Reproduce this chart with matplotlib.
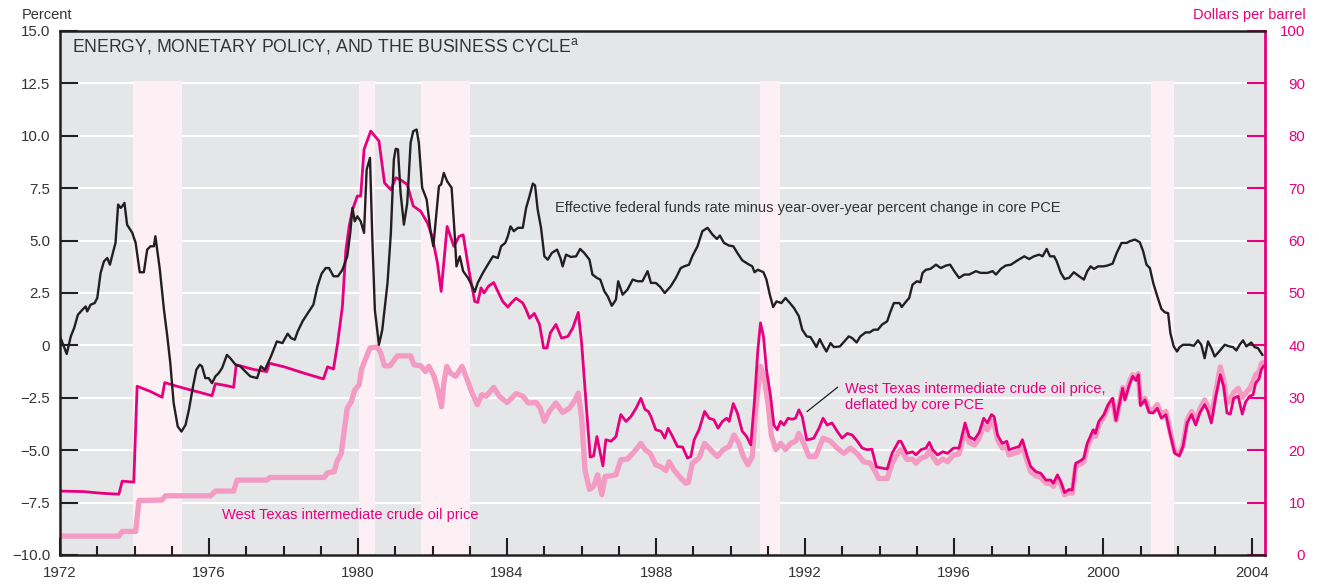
import matplotlib
matplotlib.use("Agg")
import matplotlib.pyplot as plt
from matplotlib.ticker import MultipleLocator

# --- data --------------------------------------------------------------------
# real fed funds rate (percent, left axis)
ff_years = [1972.00, 1972.18, 1972.29, 1972.38, 1972.48, 1972.60, 1972.69, 1972.73, 1972.82, 1972.93,
            1973.00, 1973.09, 1973.18, 1973.27, 1973.34, 1973.43, 1973.49, 1973.56, 1973.63, 1973.67,
            1973.73, 1973.80, 1973.94, 1974.03, 1974.14, 1974.25, 1974.34, 1974.43, 1974.52, 1974.56,
            1974.68, 1974.79, 1974.88, 1974.96, 1975.05, 1975.16, 1975.26, 1975.37, 1975.46, 1975.57,
            1975.66, 1975.75, 1975.81, 1975.90, 1975.99, 1976.08, 1976.17, 1976.26, 1976.35, 1976.48,
            1976.57, 1976.71, 1976.84, 1976.97, 1977.11, 1977.29, 1977.39, 1977.50, 1977.66, 1977.82,
            1977.97, 1978.11, 1978.20, 1978.30, 1978.38, 1978.51, 1978.64, 1978.80, 1978.91, 1979.02,
            1979.13, 1979.22, 1979.34, 1979.46, 1979.58, 1979.71, 1979.79, 1979.85, 1979.91, 1979.98,
            1980.07, 1980.16, 1980.23, 1980.32, 1980.38, 1980.45, 1980.56, 1980.65, 1980.79, 1980.88,
            1980.96, 1981.01, 1981.07, 1981.14, 1981.23, 1981.32, 1981.41, 1981.48, 1981.57, 1981.63,
            1981.72, 1981.84, 1981.95, 1982.02, 1982.11, 1982.17, 1982.23, 1982.30, 1982.39, 1982.51,
            1982.59, 1982.64, 1982.73, 1982.82, 1982.95, 1983.04, 1983.13, 1983.21, 1983.35, 1983.48,
            1983.62, 1983.75, 1983.84, 1983.95, 1984.02, 1984.09, 1984.18, 1984.29, 1984.42, 1984.51,
            1984.60, 1984.69, 1984.75, 1984.82, 1984.91, 1985.00, 1985.09, 1985.20, 1985.34, 1985.43,
            1985.49, 1985.58, 1985.71, 1985.85, 1985.96, 1986.07, 1986.21, 1986.29, 1986.41, 1986.50,
            1986.61, 1986.70, 1986.81, 1986.92, 1986.98, 1987.10, 1987.23, 1987.37, 1987.50, 1987.63,
            1987.77, 1987.86, 1987.99, 1988.11, 1988.23, 1988.39, 1988.53, 1988.66, 1988.75, 1988.88,
            1988.97, 1989.11, 1989.24, 1989.38, 1989.51, 1989.63, 1989.71, 1989.82, 1989.96, 1990.07,
            1990.18, 1990.31, 1990.45, 1990.58, 1990.64, 1990.73, 1990.88, 1990.96, 1991.05, 1991.14,
            1991.23, 1991.36, 1991.47, 1991.59, 1991.70, 1991.83, 1991.92, 1992.04, 1992.14, 1992.23,
            1992.30, 1992.39, 1992.48, 1992.57, 1992.68, 1992.77, 1992.93, 1993.05, 1993.17, 1993.26,
            1993.38, 1993.48, 1993.62, 1993.73, 1993.84, 1993.95, 1994.06, 1994.20, 1994.29, 1994.38,
            1994.53, 1994.59, 1994.71, 1994.79, 1994.88, 1995.00, 1995.09, 1995.15, 1995.24, 1995.36,
            1995.51, 1995.64, 1995.78, 1995.89, 1996.00, 1996.13, 1996.27, 1996.40, 1996.58, 1996.71,
            1996.89, 1997.03, 1997.12, 1997.25, 1997.38, 1997.52, 1997.70, 1997.88, 1998.01, 1998.14,
            1998.28, 1998.37, 1998.48, 1998.57, 1998.68, 1998.75, 1998.86, 1998.96, 1999.08, 1999.21,
            1999.35, 1999.48, 1999.57, 1999.66, 1999.75, 1999.86, 2000.00, 2000.11, 2000.25, 2000.36,
            2000.49, 2000.63, 2000.71, 2000.85, 2000.98, 2001.07, 2001.16, 2001.25, 2001.34, 2001.45,
            2001.56, 2001.65, 2001.74, 2001.80, 2001.89, 2001.98, 2002.05, 2002.14, 2002.32, 2002.43,
            2002.54, 2002.63, 2002.72, 2002.81, 2002.90, 2002.99, 2003.11, 2003.26, 2003.39, 2003.48,
            2003.57, 2003.66, 2003.75, 2003.84, 2003.97, 2004.06, 2004.15, 2004.27]
ff_rate = [0.43, -0.41, 0.43, 0.83, 1.46, 1.70, 1.86, 1.62, 1.94, 2.02,
           2.26, 3.46, 4.01, 4.17, 3.85, 4.49, 4.89, 6.72, 6.56, 6.64,
           6.80, 5.76, 5.37, 4.89, 3.49, 3.49, 4.57, 4.73, 4.73, 5.21,
           3.61, 1.70, 0.43, -0.84, -2.75, -3.87, -4.11, -3.79, -3.07, -1.96,
           -1.16, -0.92, -1.00, -1.56, -1.56, -1.80, -1.48, -1.32, -1.08, -0.45,
           -0.61, -0.92, -1.00, -1.24, -1.48, -1.56, -1.00, -1.16, -0.53, 0.19,
           0.11, 0.56, 0.35, 0.27, 0.67, 1.15, 1.51, 1.94, 2.82, 3.42,
           3.69, 3.69, 3.30, 3.30, 3.61, 4.25, 5.37, 6.56, 5.92, 6.16,
           5.92, 5.37, 8.39, 8.95, 5.21, 1.70, 0.03, 0.75, 2.98, 5.37,
           8.87, 9.38, 9.35, 7.28, 5.76, 6.80, 9.67, 10.22, 10.30, 9.67,
           7.52, 6.96, 5.37, 4.73, 6.48, 7.60, 7.68, 8.23, 7.83, 7.52,
           5.37, 3.77, 4.25, 3.54, 3.22, 2.90, 2.55, 2.98, 3.46, 3.85,
           4.25, 4.17, 4.73, 4.89, 5.21, 5.68, 5.45, 5.61, 5.61, 6.56,
           7.12, 7.72, 7.63, 6.48, 5.61, 4.25, 4.09, 4.41, 4.57, 4.17,
           3.77, 4.33, 4.22, 4.25, 4.60, 4.41, 4.09, 3.38, 3.22, 3.14,
           2.58, 2.34, 1.89, 2.18, 3.06, 2.42, 2.66, 3.14, 3.06, 3.06,
           3.54, 2.98, 2.98, 2.79, 2.50, 2.82, 3.22, 3.69, 3.77, 3.85,
           4.25, 4.73, 5.45, 5.61, 5.29, 5.08, 5.24, 4.89, 4.76, 4.73,
           4.41, 4.06, 3.90, 3.77, 3.49, 3.61, 3.49, 3.14, 2.42, 1.83,
           2.10, 2.02, 2.26, 2.02, 1.78, 1.39, 0.75, 0.43, 0.40, 0.14,
           -0.08, 0.30, -0.02, -0.29, 0.11, -0.08, -0.05, 0.19, 0.43, 0.35,
           0.14, 0.43, 0.62, 0.62, 0.75, 0.75, 0.99, 1.15, 1.62, 2.02,
           2.02, 1.83, 2.10, 2.26, 2.90, 3.06, 3.01, 3.46, 3.61, 3.65,
           3.85, 3.69, 3.81, 3.85, 3.54, 3.22, 3.38, 3.38, 3.54, 3.46,
           3.46, 3.54, 3.38, 3.65, 3.81, 3.85, 4.06, 4.25, 4.12, 4.25,
           4.33, 4.25, 4.60, 4.25, 4.25, 4.01, 3.46, 3.17, 3.22, 3.49,
           3.30, 3.14, 3.54, 3.77, 3.65, 3.77, 3.77, 3.81, 3.90, 4.41,
           4.89, 4.89, 4.97, 5.05, 4.92, 4.49, 3.85, 3.69, 2.98, 2.34,
           1.74, 1.58, 1.54, 0.59, -0.05, -0.29, -0.08, 0.03, 0.03, -0.02,
           0.24, 0.03, -0.61, 0.19, -0.13, -0.53, -0.29, 0.03, -0.05, -0.08,
           -0.24, 0.03, 0.24, -0.05, 0.14, -0.08, -0.13, -0.45]

# WTI deflated by core PCE (dollars, right axis)
real_years = [1972.00, 1972.64, 1973.09, 1973.58, 1973.67, 1973.98, 1974.07, 1974.43, 1974.74, 1974.81,
              1975.14, 1975.50, 1975.77, 1976.08, 1976.17, 1976.48, 1976.66, 1976.73, 1977.20, 1977.55,
              1977.62, 1978.02, 1978.55, 1979.07, 1979.18, 1979.34, 1979.45, 1979.58, 1979.67, 1979.76,
              1979.85, 1979.98, 1980.07, 1980.16, 1980.34, 1980.56, 1980.71, 1980.88, 1981.01, 1981.14,
              1981.32, 1981.48, 1981.68, 1981.86, 1981.99, 1982.13, 1982.23, 1982.39, 1982.57, 1982.71,
              1982.82, 1982.97, 1983.13, 1983.21, 1983.30, 1983.38, 1983.50, 1983.64, 1983.77, 1983.88,
              1984.02, 1984.11, 1984.24, 1984.42, 1984.51, 1984.60, 1984.73, 1984.87, 1984.98, 1985.07,
              1985.16, 1985.31, 1985.46, 1985.63, 1985.76, 1985.91, 1986.00, 1986.12, 1986.23, 1986.32,
              1986.41, 1986.50, 1986.57, 1986.65, 1986.79, 1986.92, 1987.05, 1987.19, 1987.32, 1987.46,
              1987.59, 1987.70, 1987.79, 1987.86, 1987.99, 1988.13, 1988.23, 1988.32, 1988.44, 1988.57,
              1988.71, 1988.84, 1988.93, 1989.02, 1989.15, 1989.30, 1989.42, 1989.55, 1989.66, 1989.78,
              1989.89, 1989.96, 1990.07, 1990.18, 1990.31, 1990.43, 1990.54, 1990.64, 1990.73, 1990.80,
              1990.88, 1990.96, 1991.07, 1991.16, 1991.25, 1991.34, 1991.43, 1991.54, 1991.65, 1991.74,
              1991.83, 1991.92, 1992.04, 1992.14, 1992.23, 1992.37, 1992.48, 1992.59, 1992.72, 1992.86,
              1992.99, 1993.13, 1993.26, 1993.39, 1993.53, 1993.66, 1993.79, 1993.91, 1994.06, 1994.20,
              1994.33, 1994.51, 1994.57, 1994.73, 1994.88, 1994.97, 1995.11, 1995.24, 1995.33, 1995.42,
              1995.55, 1995.69, 1995.82, 1995.98, 1996.13, 1996.29, 1996.40, 1996.54, 1996.67, 1996.79,
              1996.89, 1997.00, 1997.07, 1997.16, 1997.29, 1997.41, 1997.47, 1997.61, 1997.74, 1997.83,
              1997.96, 1998.05, 1998.19, 1998.32, 1998.46, 1998.59, 1998.66, 1998.77, 1998.86, 1998.96,
              1999.08, 1999.17, 1999.26, 1999.39, 1999.48, 1999.57, 1999.73, 1999.79, 1999.88, 2000.02,
              2000.13, 2000.25, 2000.34, 2000.43, 2000.52, 2000.58, 2000.70, 2000.79, 2000.88, 2000.94,
              2001.00, 2001.12, 2001.23, 2001.34, 2001.45, 2001.56, 2001.68, 2001.80, 2001.92, 2002.04,
              2002.14, 2002.25, 2002.37, 2002.48, 2002.59, 2002.72, 2002.81, 2002.90, 2003.02, 2003.14,
              2003.23, 2003.32, 2003.41, 2003.50, 2003.62, 2003.73, 2003.82, 2003.93, 2004.02, 2004.09,
              2004.18, 2004.24, 2004.30]
real_price = [12.2, 12.1, 11.8, 11.6, 14.1, 13.9, 32.2, 31.2, 30.1, 32.9,
              32.2, 31.5, 31.0, 30.4, 32.7, 32.3, 32.0, 36.3, 35.4, 35.0,
              36.6, 35.9, 34.7, 33.6, 35.9, 35.5, 40.4, 47.5, 58.0, 62.7,
              65.9, 68.5, 68.5, 77.4, 80.9, 79.0, 71.0, 69.7, 72.0, 71.6,
              70.7, 66.6, 65.6, 63.4, 60.8, 55.7, 50.3, 62.7, 58.9, 60.8,
              61.1, 54.5, 48.4, 48.2, 51.0, 50.0, 51.3, 52.0, 50.0, 48.4,
              47.3, 48.1, 49.0, 48.1, 46.8, 45.2, 46.1, 44.0, 39.5, 39.5,
              42.4, 44.0, 41.4, 41.7, 43.3, 46.3, 40.4, 28.9, 18.7, 18.9,
              22.6, 19.4, 17.0, 22.0, 21.7, 22.6, 26.8, 25.5, 26.4, 28.0,
              29.9, 27.8, 27.4, 26.4, 23.9, 23.6, 22.3, 24.2, 22.6, 20.7,
              20.6, 18.5, 18.8, 22.0, 23.9, 27.4, 26.1, 25.8, 24.2, 25.5,
              26.1, 25.5, 28.9, 27.1, 23.6, 22.6, 21.0, 29.6, 39.2, 44.3,
              41.7, 35.4, 30.3, 24.8, 23.9, 25.5, 24.8, 26.1, 25.9, 26.1,
              27.7, 26.4, 22.0, 22.1, 22.3, 24.2, 26.1, 24.8, 25.2, 23.6,
              22.3, 23.2, 22.9, 21.8, 20.4, 20.1, 20.2, 16.8, 16.6, 16.4,
              19.4, 21.7, 21.7, 19.4, 19.7, 19.1, 20.1, 20.4, 21.5, 20.1,
              19.1, 19.7, 19.4, 20.4, 20.4, 25.2, 22.6, 22.0, 23.4, 26.1,
              25.2, 26.8, 26.4, 22.9, 21.3, 21.7, 20.1, 20.4, 20.7, 22.0,
              18.8, 16.9, 15.9, 15.6, 14.3, 14.3, 13.7, 15.3, 14.0, 11.9,
              12.5, 12.4, 17.5, 18.0, 18.5, 21.3, 23.9, 23.2, 25.5, 26.8,
              28.7, 29.9, 25.7, 28.7, 31.8, 29.6, 32.5, 34.1, 33.3, 34.4,
              28.5, 29.6, 27.2, 27.1, 28.0, 26.1, 26.8, 22.9, 19.4, 18.9,
              20.7, 25.2, 26.8, 24.8, 27.1, 28.7, 27.4, 25.2, 30.3, 34.4,
              32.2, 27.1, 26.9, 29.9, 30.3, 26.9, 29.2, 30.3, 30.6, 32.8,
              33.6, 35.4, 36.0]

# WTI nominal (dollars, right axis)
nom_years = [1972.00, 1973.58, 1973.67, 1974.03, 1974.12, 1974.74, 1974.83, 1976.04, 1976.17, 1976.66,
             1976.75, 1977.55, 1977.64, 1979.09, 1979.18, 1979.36, 1979.43, 1979.55, 1979.63, 1979.71,
             1979.82, 1979.91, 1980.03, 1980.09, 1980.21, 1980.32, 1980.52, 1980.61, 1980.71, 1980.86,
             1981.05, 1981.41, 1981.50, 1981.68, 1981.81, 1981.90, 1982.04, 1982.14, 1982.24, 1982.30,
             1982.38, 1982.48, 1982.62, 1982.79, 1982.93, 1983.06, 1983.20, 1983.32, 1983.44, 1983.64,
             1983.79, 1984.00, 1984.24, 1984.42, 1984.57, 1984.78, 1984.89, 1985.00, 1985.13, 1985.31,
             1985.49, 1985.67, 1985.80, 1985.91, 1986.00, 1986.09, 1986.21, 1986.32, 1986.43, 1986.54,
             1986.63, 1986.77, 1986.92, 1987.05, 1987.23, 1987.41, 1987.59, 1987.70, 1987.84, 1987.99,
             1988.13, 1988.26, 1988.35, 1988.48, 1988.62, 1988.79, 1988.86, 1988.97, 1989.15, 1989.30,
             1989.46, 1989.64, 1989.80, 1989.96, 1990.09, 1990.22, 1990.34, 1990.46, 1990.58, 1990.67,
             1990.80, 1990.89, 1991.00, 1991.09, 1991.21, 1991.34, 1991.47, 1991.61, 1991.74, 1991.83,
             1991.96, 1992.10, 1992.28, 1992.48, 1992.68, 1992.86, 1993.04, 1993.21, 1993.39, 1993.57,
             1993.75, 1993.88, 1993.97, 1994.20, 1994.33, 1994.51, 1994.57, 1994.73, 1994.88, 1994.97,
             1995.11, 1995.24, 1995.33, 1995.42, 1995.55, 1995.69, 1995.82, 1995.98, 1996.13, 1996.29,
             1996.40, 1996.54, 1996.67, 1996.79, 1996.89, 1997.00, 1997.07, 1997.16, 1997.29, 1997.41,
             1997.47, 1997.61, 1997.74, 1997.83, 1997.96, 1998.05, 1998.19, 1998.32, 1998.46, 1998.59,
             1998.66, 1998.77, 1998.86, 1998.96, 1999.08, 1999.17, 1999.26, 1999.39, 1999.48, 1999.57,
             1999.73, 1999.79, 1999.88, 2000.02, 2000.13, 2000.25, 2000.34, 2000.43, 2000.52, 2000.58,
             2000.70, 2000.79, 2000.88, 2000.94, 2001.00, 2001.12, 2001.23, 2001.34, 2001.45, 2001.56,
             2001.68, 2001.80, 2001.92, 2002.04, 2002.14, 2002.25, 2002.37, 2002.48, 2002.59, 2002.72,
             2002.81, 2002.90, 2003.02, 2003.14, 2003.23, 2003.32, 2003.41, 2003.50, 2003.62, 2003.73,
             2003.82, 2003.93, 2004.02, 2004.09, 2004.18, 2004.24, 2004.34]
nom_price = [3.6, 3.6, 4.5, 4.5, 10.4, 10.5, 11.3, 11.3, 12.2, 12.2,
             14.3, 14.3, 14.8, 14.8, 15.7, 15.9, 17.8, 19.4, 23.9, 28.0,
             29.3, 31.5, 32.5, 35.4, 37.6, 39.5, 39.7, 38.5, 36.1, 36.1,
             38.0, 38.0, 36.3, 36.1, 35.0, 36.0, 34.1, 31.5, 28.3, 32.8,
             36.0, 34.7, 34.1, 36.0, 33.4, 30.9, 28.7, 30.6, 30.3, 32.0,
             30.3, 29.1, 30.8, 30.3, 29.0, 29.1, 28.0, 25.5, 27.4, 29.0,
             27.2, 28.0, 29.3, 30.9, 26.1, 16.2, 12.5, 13.1, 15.3, 11.5,
             15.0, 15.1, 15.3, 18.2, 18.3, 19.7, 21.3, 20.1, 19.4, 17.2,
             16.8, 16.1, 17.8, 16.2, 15.0, 13.7, 13.8, 17.5, 18.5, 21.3,
             20.1, 18.8, 20.1, 20.7, 22.9, 21.3, 18.8, 17.2, 18.8, 27.7,
             36.0, 34.1, 29.0, 22.9, 20.1, 21.3, 20.1, 21.3, 21.7, 23.2,
             21.3, 18.8, 18.8, 22.3, 21.7, 20.4, 19.4, 20.4, 19.4, 17.8,
             17.5, 15.9, 14.6, 14.6, 17.5, 19.7, 20.1, 18.2, 18.3, 17.5,
             18.5, 18.8, 19.9, 18.8, 17.5, 18.3, 17.8, 19.1, 19.3, 23.9,
             21.5, 21.0, 22.3, 24.8, 23.9, 25.5, 25.2, 22.0, 20.4, 20.7,
             19.1, 19.4, 19.7, 21.0, 17.8, 15.9, 15.1, 14.8, 13.7, 13.6,
             13.1, 14.6, 13.4, 11.5, 11.9, 11.8, 16.9, 17.4, 17.8, 20.7,
             23.2, 22.6, 24.8, 26.4, 28.3, 29.7, 25.7, 28.7, 32.0, 29.9,
             33.1, 34.4, 33.6, 34.6, 28.9, 29.9, 27.6, 27.7, 28.7, 26.8,
             27.4, 23.4, 19.7, 19.3, 21.0, 25.8, 27.4, 25.5, 27.8, 29.6,
             28.3, 26.1, 31.2, 35.9, 33.4, 29.0, 29.6, 31.0, 31.8, 30.1,
             30.9, 31.8, 33.1, 34.4, 35.0, 36.5, 36.9]

recessions = [(1973.97, 1975.28), (1980.02, 1980.45), (1981.70, 1983.00),
              (1990.79, 1991.32), (2001.28, 2001.90)]

pct_ticks = [-10, -7.5, -5, -2.5, 0, 2.5, 5, 7.5, 10, 12.5, 15]
pct_labels = ['\u221210.0', '\u22127.5', '\u22125.0', '\u22122.5', '0', '2.5', '5.0', '7.5', '10.0', '12.5', '15.0']
usd_ticks = [0, 10, 20, 30, 40, 50, 60, 70, 80, 90, 100]
year_ticks = [1972, 1976, 1980, 1984, 1988, 1992, 1996, 2000, 2004]

# --- style -------------------------------------------------------------------
plt.rcParams['font.family'] = ['Liberation Sans', 'DejaVu Sans']
plt.rcParams['mathtext.fontset'] = 'custom'
plt.rcParams['mathtext.rm'] = 'Liberation Sans'

MAGENTA = '#e6007e'
PINK = '#f39bc2'
INK = '#231f20'
TEXT = '#333333'
BG = '#e5e6e8'
SHADE = '#fdf0f4'
FS = 10.5

fig = plt.figure(figsize=(13.19, 5.86), dpi=100)
ax = fig.add_axes([60 / 1319, 31 / 586, 1205 / 1319, 524 / 586])
ax2 = ax.twinx()
ax.set_zorder(ax2.get_zorder() + 1)
ax.patch.set_visible(False)
ax2.patch.set_visible(True)
ax2.patch.set_facecolor(BG)

ax.set_xlim(1972, 2004.34)
ax.set_ylim(-10, 15)
ax2.set_ylim(0, 100)

# recession bars and grid (on the back axis)
for a, b in recessions:
    ax2.axvspan(a, b, ymin=0, ymax=0.904, color=SHADE, lw=0, zorder=1)
ax2.set_axisbelow(True)
ax2.set_yticks(usd_ticks)
ax2.yaxis.grid(True, color='white', lw=1.6)

ax2.plot(nom_years, nom_price, color=PINK, lw=3.8, solid_capstyle='round',
         solid_joinstyle='round', zorder=2)
ax2.plot(real_years, real_price, color=MAGENTA, lw=2.0, solid_joinstyle='round', zorder=3)
ax.plot(ff_years, ff_rate, color=INK, lw=1.7, solid_joinstyle='round', zorder=4)

# axes and ticks
ax.set_yticks(pct_ticks)
ax.set_yticklabels(pct_labels)
ax.set_xticks(year_ticks)
ax.xaxis.set_minor_locator(MultipleLocator(1))
ax.tick_params(axis='y', direction='in', length=13, width=1.5, color=INK, pad=7,
               labelsize=FS + 0.3, labelcolor=TEXT)
ax.tick_params(axis='x', which='major', direction='in', length=12.5, width=1.5, color=INK,
               pad=8, labelsize=FS + 0.3, labelcolor=TEXT)
ax.tick_params(axis='x', which='minor', direction='in', length=6.5, width=1.5, color=INK)
ax2.tick_params(axis='y', direction='in', length=13, width=1.5, color=MAGENTA, pad=29,
                labelsize=FS + 0.3, labelcolor=MAGENTA)
for lbl in ax2.get_yticklabels():
    lbl.set_horizontalalignment('right')

for side in ['left', 'top', 'bottom']:
    ax.spines[side].set_color(INK)
    ax.spines[side].set_linewidth(1.8)
ax.spines['right'].set_visible(False)
for side in ['left', 'top', 'bottom']:
    ax2.spines[side].set_visible(False)
ax2.spines['right'].set_color(MAGENTA)
ax2.spines['right'].set_linewidth(2)

# text
fig.text(22 / 1319, 1 - 15 / 586, 'Percent', ha='left', va='center', fontsize=FS, color=TEXT)
fig.text(1306 / 1319, 1 - 15 / 586, 'Dollars per barrel', ha='right', va='center',
         fontsize=FS, color=MAGENTA)
ax.text(0.01, 0.971, r'ENERGY, MONETARY POLICY, AND THE BUSINESS CYCLE$^{\mathrm{a}}$',
        transform=ax.transAxes, fontsize=12.7, color=TEXT, ha='left', va='center')
ax.text(1985.28, 6.54, 'Effective federal funds rate minus year-over-year percent change in core PCE',
        fontsize=FS, color=TEXT, ha='left', va='center')
ax.text(1976.35, -8.11, 'West Texas intermediate crude oil price', fontsize=FS,
        color=MAGENTA, ha='left', va='center')
ax.text(1993.07, -2.48, 'West Texas intermediate crude oil price,\ndeflated by core PCE',
        fontsize=FS, color=MAGENTA, ha='left', va='center', linespacing=1.2)
ax.annotate('', xy=(1991.99, -3.24), xytext=(1992.93, -1.91),
            arrowprops=dict(arrowstyle='-', color=INK, lw=0.9))

fig.savefig('out.png', dpi=100)
